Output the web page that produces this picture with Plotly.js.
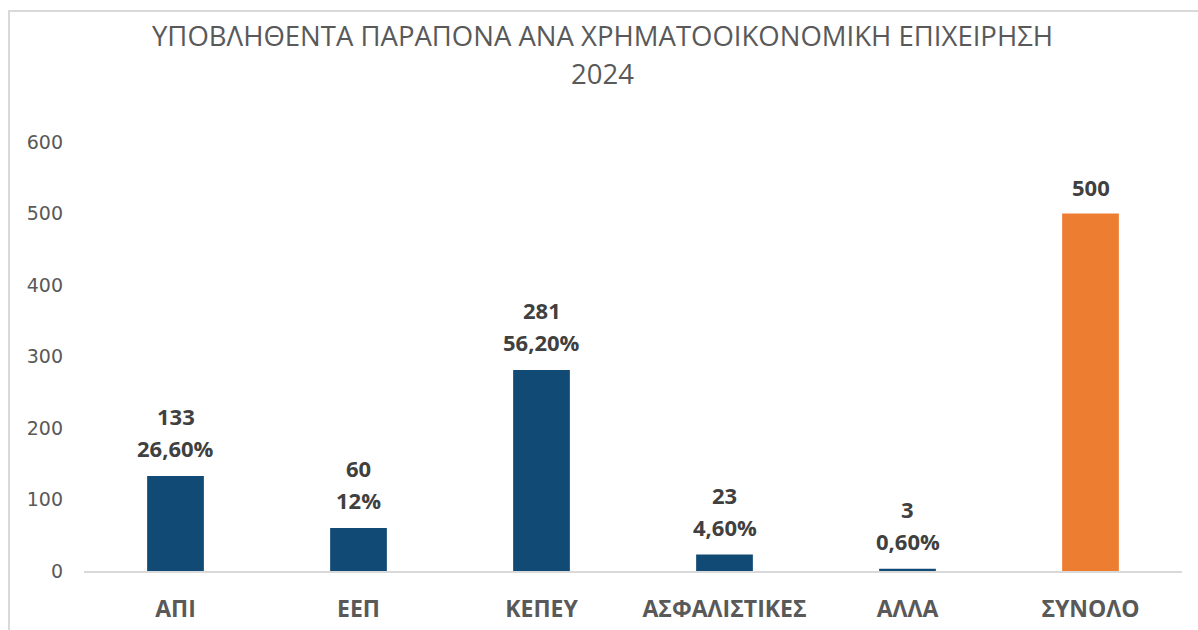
<!DOCTYPE html>
<html>
<head>
<meta charset="utf-8">
<script src="https://cdn.plot.ly/plotly-3.0.1.min.js"></script>
<style>
  html, body { margin: 0; padding: 0; background: #fff; }
  #frame { position: absolute; left: 8px; top: 10px; width: 1190px; height: 620px; border-top: 2px solid #d9d9d9; border-left: 2px solid #d9d9d9; box-sizing: border-box; }
  #chart { position: absolute; left: 0; top: 0; width: 1198px; height: 630px; }
</style>
</head>
<body>
<div id="frame"></div>
<div id="chart"></div>
<script>
const categories = ["ΑΠΙ", "ΕΕΠ", "ΚΕΠΕΥ", "ΑΣΦΑΛΙΣΤΙΚΕΣ", "ΑΛΛΑ", "ΣΥΝΟΛΟ"];
const values = [133, 60, 281, 23, 3, 500];
const percentLabels = ["26,60%", "12%", "56,20%", "4,60%", "0,60%", ""];
const barColors = ["#114B75", "#114B75", "#114B75", "#114B75", "#114B75", "#ED7D31"];
const titleLine1 = "ΥΠΟΒΛΗΘΕΝΤΑ ΠΑΡΑΠΟΝΑ ΑΝΑ ΧΡΗΜΑΤΟΟΙΚΟΝΟΜΙΚΗ ΕΠΙΧΕΙΡΗΣΗ";
const titleLine2 = "2024";

const labelFont = { family: "Open Sans, sans-serif", size: 22, color: "#404040", weight: "bold" };
const titleFont = { family: "Open Sans, sans-serif", size: 27.5, color: "#595959" };

const trace = {
  type: "bar",
  x: categories,
  y: values,
  marker: { color: barColors },
  hoverinfo: "x+y"
};

const annotations = [];
categories.forEach((c, i) => {
  const hasPct = percentLabels[i] !== "";
  if (hasPct) {
    annotations.push({
      x: c, y: values[i], xref: "x", yref: "y",
      text: percentLabels[i], showarrow: false,
      yanchor: "middle", yshift: 28, font: labelFont
    });
  }
  annotations.push({
    x: c, y: values[i], xref: "x", yref: "y",
    text: String(values[i]), showarrow: false,
    yanchor: "middle", yshift: hasPct ? 60 : 27, font: labelFont
  });
});

annotations.push({
  text: titleLine1, xref: "paper", yref: "paper", x: 0.4718, y: 1.2475,
  xanchor: "center", yanchor: "middle", showarrow: false, font: titleFont
});
annotations.push({
  text: titleLine2, xref: "paper", yref: "paper", x: 0.4718, y: 1.1608,
  xanchor: "center", yanchor: "middle", showarrow: false, font: titleFont
});

const layout = {
  width: 1198,
  height: 630,
  margin: { l: 84, r: 16, t: 142, b: 59 },
  paper_bgcolor: "rgba(0,0,0,0)",
  plot_bgcolor: "rgba(0,0,0,0)",
  bargap: 0.69,
  showlegend: false,
  annotations: annotations,
  xaxis: {
    showline: true,
    linecolor: "#d9d9d9",
    linewidth: 2,
    ticks: "",
    ticklabelstandoff: 16,
    tickfont: { family: "Open Sans, sans-serif", size: 23, color: "#595959", weight: "bold" },
    showgrid: false,
    fixedrange: true
  },
  yaxis: {
    range: [0, 600],
    dtick: 100,
    tick0: 0,
    showgrid: false,
    zeroline: false,
    showline: false,
    ticks: "",
    ticklabelstandoff: 20,
    tickfont: { family: "DejaVu Sans, sans-serif", size: 19, color: "#595959" },
    fixedrange: true
  }
};

Plotly.newPlot("chart", [trace], layout, { displayModeBar: false, staticPlot: true });
</script>
</body>
</html>
